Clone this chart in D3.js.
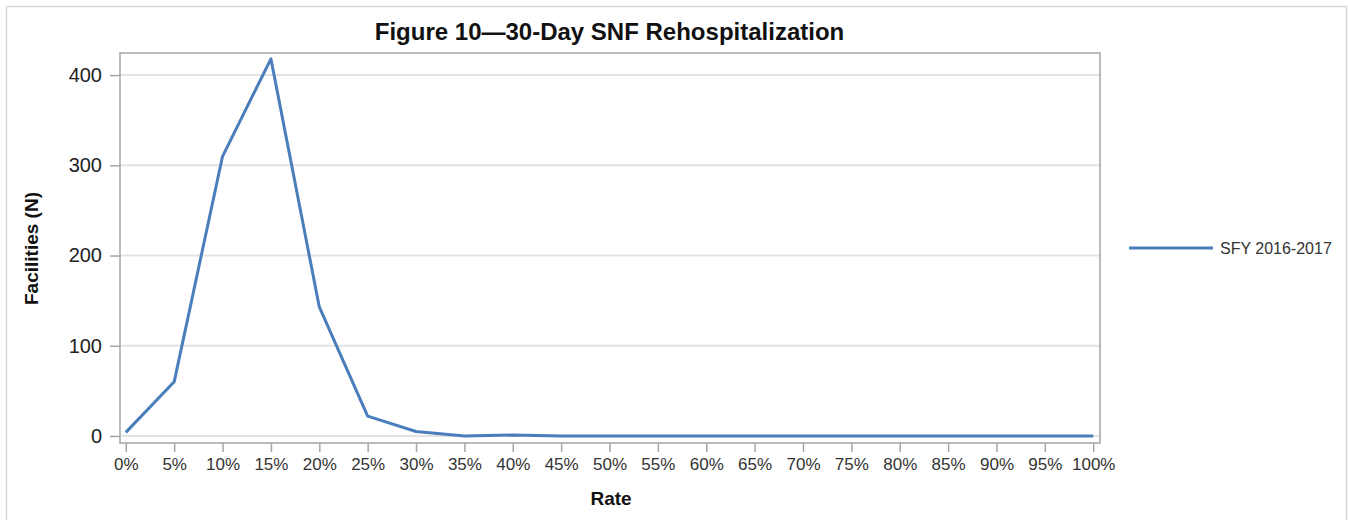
<!DOCTYPE html>
<html><head><meta charset="utf-8">
<script src="https://cdn.jsdelivr.net/npm/d3@7"></script>
<style>body{margin:0;background:#fff;font-family:"Liberation Sans",Arial,sans-serif}</style>
</head><body><svg id="c" width="1348" height="520"></svg>
<script>
const rates = [0,5,10,15,20,25,30,35,40,45,50,55,60,65,70,75,80,85,90,95,100];
const facilities = [4,60,310,418,143,22,5,0,1,0,0,0,0,0,0,0,0,0,0,0,0];
const yTicks = [0,100,200,300,400];
const seriesName = "SFY 2016-2017";
const title = "Figure 10\u201430-Day SNF Rehospitalization";

const svg = d3.select("#c");
const L=120,R=1100,T=53,B=443;
const x = d3.scaleLinear().domain([-0.6,100.7]).range([L,R]);
const y = d3.scaleLinear().domain([-7.8,424.5]).range([B,T]);
const color="#4a7ebb", axisCol="#a2a6aa";

svg.append("rect").attr("x",6.5).attr("y",6.5).attr("width",1340).attr("height",520).attr("fill","none").attr("stroke","#d9d9d9").attr("stroke-width",1.5);

// grid
svg.append("g").selectAll("line").data(yTicks).join("line")
  .attr("x1",L).attr("x2",R).attr("y1",d=>y(d)).attr("y2",d=>y(d))
  .attr("stroke","#e3e3e3").attr("stroke-width",2);

// frame
svg.append("rect").attr("x",L).attr("y",T).attr("width",R-L).attr("height",B-T)
  .attr("fill","none").attr("stroke",axisCol).attr("stroke-width",1.5);

// axes
const yA = svg.append("g").attr("transform",`translate(${L},0)`)
  .call(d3.axisLeft(y).tickValues(yTicks).tickSize(10).tickPadding(8));
yA.select(".domain").remove();
yA.selectAll("line").attr("stroke",axisCol).attr("stroke-width",1.5);
yA.selectAll("text").attr("font-size",20).attr("fill","#222").attr("font-family","Liberation Sans, Arial");

const xA = svg.append("g").attr("transform",`translate(0,${B})`)
  .call(d3.axisBottom(x).tickValues(rates).tickFormat(d=>d+"%").tickSize(9).tickPadding(6));
xA.select(".domain").remove();
xA.selectAll("line").attr("stroke",axisCol).attr("stroke-width",1.5);
xA.selectAll("text").attr("font-size",17).attr("fill","#333").attr("font-family","Liberation Sans, Arial");

// line
svg.append("path").datum(rates.map((r,i)=>[r,facilities[i]]))
  .attr("d",d3.line().x(d=>x(d[0])).y(d=>y(d[1])))
  .attr("fill","none").attr("stroke",color).attr("stroke-width",3).attr("stroke-linejoin","round");

// titles
svg.append("text").attr("x",609.5).attr("y",40).attr("text-anchor","middle")
  .attr("font-size",24).attr("font-weight","bold").attr("fill","#111").text(title);
svg.append("text").attr("x",611).attr("y",505).attr("text-anchor","middle")
  .attr("font-size",19).attr("font-weight","bold").attr("fill","#111").text("Rate");
svg.append("text").attr("transform","translate(38,248.5) rotate(-90)").attr("text-anchor","middle")
  .attr("font-size",19).attr("font-weight","bold").attr("fill","#111").text("Facilities (N)");

// legend
svg.append("line").attr("x1",1129).attr("x2",1213).attr("y1",248).attr("y2",248)
  .attr("stroke",color).attr("stroke-width",3);
svg.append("text").attr("x",1220).attr("y",254).attr("font-size",16).attr("fill","#333").text(seriesName);
</script></body></html>
